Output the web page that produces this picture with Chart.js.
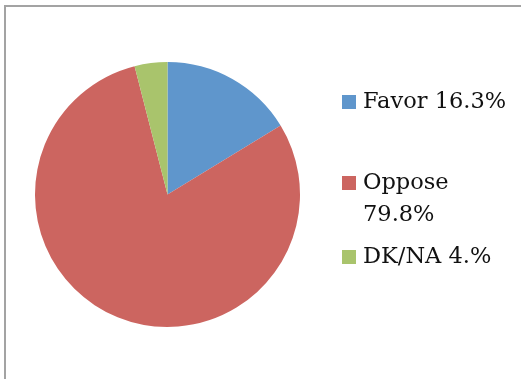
<!DOCTYPE html>
<html>
<head>
<meta charset="utf-8">
<script src="https://cdn.jsdelivr.net/npm/chart.js@4"></script>
<style>
  body { margin: 0; background: #fff; }
  #wrap { position: relative; width: 521px; height: 379px; overflow: hidden; }
  #frame { position: absolute; left: 4px; top: 5px; width: 600px; height: 500px;
           border-left: 2px solid #a3a3a3; border-top: 2px solid #a3a3a3; }
  canvas { position: absolute; left: 0; top: 0; }
</style>
</head>
<body>
<div id="wrap">
  <div id="frame"></div>
  <canvas id="pie-chart" width="521" height="379"></canvas>
</div>
<script>
// values
const answers = ['Favor', 'Oppose', 'DK/NA'];
const shares = [16.3, 79.8, 4.0];
const shareLabels = ['16.3%', '79.8%', '4.%'];
const colors = ['#5f96cc', '#cc6560', '#a9c46c'];

// legend text lines, Oppose wraps onto two lines like the original
const legendLines = [
  ['Favor ' + shareLabels[0]],
  ['Oppose', shareLabels[1]],
  ['DK/NA ' + shareLabels[2]]
];
const legendTop = [102, 183, 257];

const sideLegend = {
  id: 'sideLegend',
  afterDraw(chart) {
    const ctx = chart.ctx;
    const ds = chart.data.datasets[0];
    ctx.save();
    ctx.font = '22.5px "DejaVu Serif"';
    ctx.textBaseline = 'middle';
    legendLines.forEach((lines, i) => {
      const y = legendTop[i];
      ctx.fillStyle = ds.backgroundColor[i];
      ctx.fillRect(342, y - 7, 14, 14);
      ctx.fillStyle = '#111';
      lines.forEach((t, j) => ctx.fillText(t, 363, y + j * 32));
    });
    ctx.restore();
  }
};

new Chart(document.querySelector('#pie-chart').getContext('2d'), {
  type: 'pie',
  data: {
    labels: answers,
    datasets: [{
      data: shares,
      backgroundColor: colors,
      borderWidth: 0
    }]
  },
  options: {
    responsive: false,
    animation: false,
    layout: { padding: { left: 35, right: 221, top: 62, bottom: 52 } },
    plugins: {
      legend: { display: false },
      tooltip: { enabled: false }
    }
  },
  plugins: [sideLegend]
});
</script>
</body>
</html>
